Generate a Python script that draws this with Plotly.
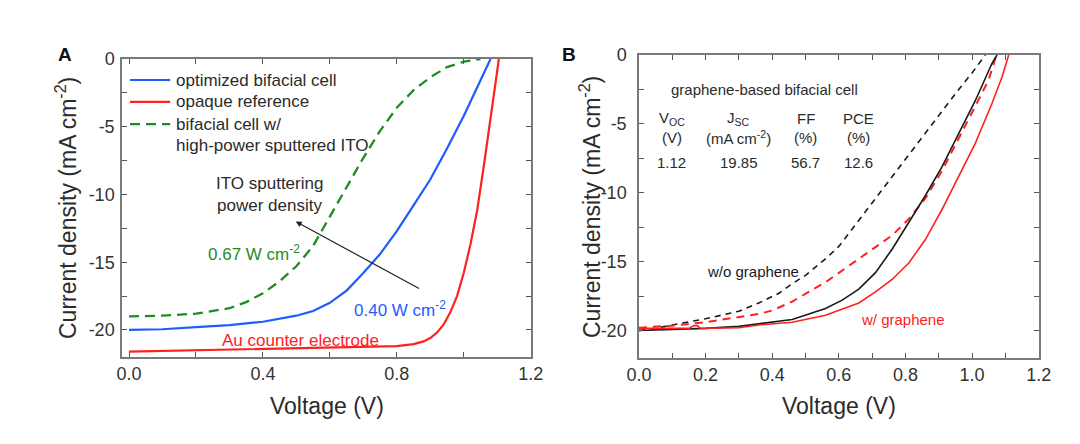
import plotly.graph_objects as go

# ---------------- Panel A data ----------------
a_v_blue = [0, 0.1, 0.2, 0.3, 0.4, 0.5, 0.55, 0.6, 0.65, 0.7, 0.75, 0.8, 0.85, 0.9, 0.95, 1.0, 1.04, 1.08]
a_j_blue = [-20.0, -19.95, -19.8, -19.65, -19.4, -18.95, -18.6, -18.0, -17.1, -15.8, -14.4, -12.7, -10.8, -8.9, -6.6, -4.2, -2.1, 0.0]

a_v_red = [0, 0.1, 0.2, 0.3, 0.4, 0.5, 0.6, 0.7, 0.8, 0.85, 0.88, 0.9, 0.92, 0.94, 0.96, 0.98, 1.0, 1.02, 1.04, 1.06, 1.08, 1.1, 1.105]
a_j_red = [-21.6, -21.55, -21.5, -21.45, -21.4, -21.4, -21.35, -21.3, -21.2, -21.05, -20.85, -20.6, -20.2, -19.6, -18.7, -17.5, -15.8, -13.7, -11.2, -7.9, -4.4, -0.8, 0.0]

a_v_green = [0, 0.1, 0.2, 0.3, 0.35, 0.4, 0.45, 0.5, 0.55, 0.6, 0.65, 0.7, 0.75, 0.8, 0.85, 0.9, 0.95, 1.0, 1.05]
a_j_green = [-19.0, -18.95, -18.8, -18.4, -17.95, -17.3, -16.4, -15.3, -13.8, -11.6, -9.4, -7.3, -5.3, -3.6, -2.3, -1.35, -0.6, -0.2, 0.0]

a_legend_names = ["optimized bifacial cell", "opaque reference", "bifacial cell w/", "high-power sputtered ITO"]

# ---------------- Panel B data ----------------
b_v_black = [0, 0.1, 0.2, 0.3, 0.36, 0.46, 0.56, 0.61, 0.66, 0.71, 0.76, 0.81, 0.86, 0.91, 0.96, 1.01, 1.06, 1.075]
b_j_black = [-20.0, -19.95, -19.85, -19.7, -19.5, -19.2, -18.4, -17.8, -17.0, -15.8, -14.1, -12.2, -10.2, -8.1, -5.7, -3.3, -0.6, 0.0]

b_v_black_dash = [0, 0.05, 0.1, 0.2, 0.3, 0.36, 0.42, 0.46, 0.5, 0.56, 0.6, 0.66, 0.71, 0.76, 0.81, 0.86, 0.91, 0.96, 1.0, 1.04]
b_j_black_dash = [-20.0, -19.85, -19.6, -19.15, -18.6, -18.0, -17.3, -16.6, -16.0, -14.8, -13.9, -12.0, -10.4, -8.8, -7.2, -5.7, -4.1, -2.5, -1.3, 0.0]

b_v_red = [0, 0.1, 0.15, 0.165, 0.175, 0.185, 0.2, 0.3, 0.36, 0.46, 0.56, 0.66, 0.71, 0.76, 0.81, 0.86, 0.91, 0.96, 1.01, 1.06, 1.09, 1.11]
b_j_red = [-19.85, -19.85, -19.85, -19.65, -19.65, -19.85, -19.85, -19.8, -19.6, -19.4, -18.9, -18.0, -17.2, -16.3, -15.1, -13.4, -11.2, -8.8, -6.4, -3.5, -1.6, 0.0]

b_v_red_dash = [0, 0.1, 0.2, 0.3, 0.36, 0.4, 0.46, 0.56, 0.66, 0.71, 0.76, 0.81, 0.86, 0.91, 0.96, 1.01, 1.05, 1.073]
b_j_red_dash = [-19.8, -19.65, -19.4, -19.05, -18.8, -18.55, -17.9, -16.5, -14.8, -14.0, -13.1, -11.9, -10.4, -8.4, -6.1, -3.7, -1.8, 0.0]

b_table_header = ["V<sub>OC</sub>", "J<sub>SC</sub>", "FF", "PCE"]
b_table_units = ["(V)", "(mA cm<sup>-2</sup>)", "(%)", "(%)"]
b_table_values = ["1.12", "19.85", "56.7", "12.6"]

x_ticks_a = [0.0, 0.4, 0.8, 1.2]
x_minor_a = [0.2, 0.6, 1.0]
x_ticks_b = [0.0, 0.2, 0.4, 0.6, 0.8, 1.0, 1.2]
x_minor_b = [0.1, 0.3, 0.5, 0.7, 0.9, 1.1]
y_ticks = [-20, -15, -10, -5, 0]
y_minor = [-17.5, -12.5, -7.5, -2.5]

FONT = '"Liberation Sans", Arial, sans-serif'
BLUE = "#1f5cff"
RED = "#ff2020"
GREEN = "#1f8c1f"
BLACK = "#1a1a1a"
TXT = "#2b2b2b"

fig = go.Figure()

# Panel A curves
fig.add_trace(go.Scatter(x=a_v_green, y=a_j_green, mode="lines", xaxis="x", yaxis="y",
                         line=dict(color=GREEN, width=2.3, dash="10px,6px"), showlegend=False))
fig.add_trace(go.Scatter(x=a_v_blue, y=a_j_blue, mode="lines", xaxis="x", yaxis="y",
                         line=dict(color=BLUE, width=2.2), showlegend=False))
fig.add_trace(go.Scatter(x=a_v_red, y=a_j_red, mode="lines", xaxis="x", yaxis="y",
                         line=dict(color=RED, width=2.2), showlegend=False))

# Panel B curves
fig.add_trace(go.Scatter(x=b_v_black_dash, y=b_j_black_dash, mode="lines", xaxis="x2", yaxis="y2",
                         line=dict(color=BLACK, width=1.6, dash="6px,5px"), showlegend=False))
fig.add_trace(go.Scatter(x=b_v_red_dash, y=b_j_red_dash, mode="lines", xaxis="x2", yaxis="y2",
                         line=dict(color=RED, width=2.0, dash="8px,6px"), showlegend=False))
fig.add_trace(go.Scatter(x=b_v_black, y=b_j_black, mode="lines", xaxis="x2", yaxis="y2",
                         line=dict(color=BLACK, width=1.6), showlegend=False))
fig.add_trace(go.Scatter(x=b_v_red, y=b_j_red, mode="lines", xaxis="x2", yaxis="y2",
                         line=dict(color=RED, width=1.6), showlegend=False))

axis_common = dict(showline=True, linecolor="#7a7a7a", linewidth=1.5, mirror="ticks",
                   ticks="inside", ticklen=5, tickwidth=1.2, tickcolor="#555",
                   showgrid=False, zeroline=False, automargin=False,
                   tickfont=dict(family=FONT, size=18, color="#333"))

minor_common = dict(ticks="inside", ticklen=5, tickcolor="#555", tickwidth=1.2, showgrid=False)

fig.update_layout(
    template="none",
    width=1080, height=444,
    margin=dict(l=0, r=0, t=0, b=0, pad=0, autoexpand=False),
    paper_bgcolor="white", plot_bgcolor="white",
    font=dict(family=FONT, color=TXT),
    showlegend=False,
    xaxis=dict(domain=[0.11296, 0.49167], range=[-0.021, 1.201], anchor="y",
               tickmode="array", tickvals=x_ticks_a, ticktext=["%.1f" % v for v in x_ticks_a],
               minor=dict(tickmode="array", tickvals=x_minor_a, **minor_common),
               **axis_common),
    yaxis=dict(domain=[0.19595, 0.86712], range=[-22, 0.001], anchor="x",
               tickmode="array", tickvals=y_ticks, ticktext=[str(v) for v in y_ticks],
               minor=dict(tickmode="array", tickvals=y_minor, **minor_common),
               ticklabelstandoff=2,
               **axis_common),
    xaxis2=dict(domain=[0.59167, 0.96204], range=[0, 1.201], anchor="y2",
                tickmode="array", tickvals=x_ticks_b, ticktext=["%.1f" % v for v in x_ticks_b],
                minor=dict(tickmode="array", tickvals=x_minor_b, **minor_common),
                **axis_common),
    yaxis2=dict(domain=[0.19369, 0.87613], range=[-22, 0.001], anchor="x2",
                tickmode="array", tickvals=y_ticks, ticktext=[str(v) for v in y_ticks],
                minor=dict(tickmode="array", tickvals=y_minor, **minor_common),
                ticklabelstandoff=7,
                **axis_common),
)

# Legend of panel A (sample lines + labels)
leg_y = [-1.55, -3.17, -4.8]
leg_colors = [BLUE, RED, GREEN]
leg_dash = ["solid", "solid", "10px,6px"]
for yy, cc, dd in zip(leg_y, leg_colors, leg_dash):
    fig.add_shape(type="line", xref="x", yref="y", x0=0.003, x1=0.123, y0=yy, y1=yy,
                  line=dict(color=cc, width=2.2, dash=dd))
for yy, name in zip(leg_y + [-6.38], a_legend_names):
    fig.add_annotation(xref="x", yref="y", x=0.134, y=yy, text=name, showarrow=False,
                       xanchor="left", yanchor="middle", font=dict(size=17, color=TXT))

ann = []
# Panel A texts
ann.append(dict(xref="x", yref="y", x=0.421, y=-9.17, text="ITO sputtering", font=dict(size=17, color=TXT)))
ann.append(dict(xref="x", yref="y", x=0.421, y=-10.8, text="power density", font=dict(size=17, color=TXT)))
ann.append(dict(xref="x", yref="y", x=0.373, y=-14.3, text="0.67 W cm<sup>-2</sup>", font=dict(size=17, color=GREEN)))
ann.append(dict(xref="x", yref="y", x=0.809, y=-18.45, text="0.40 W cm<sup>-2</sup>", font=dict(size=17, color=BLUE)))
ann.append(dict(xref="x", yref="y", x=0.513, y=-20.8, text="Au counter electrode", font=dict(size=17, color=RED)))

# Panel B texts
ann.append(dict(xref="x2", yref="y2", x=0.378, y=-2.53, text="graphene-based bifacial cell", font=dict(size=15, color=TXT)))
col_x = [0.099, 0.30, 0.50, 0.658]
for cx, h, u, v in zip(col_x, b_table_header, b_table_units, b_table_values):
    ann.append(dict(xref="x2", yref="y2", x=cx, y=-4.58, text=h, font=dict(size=15, color=TXT)))
    ann.append(dict(xref="x2", yref="y2", x=cx, y=-6.02, text=u, font=dict(size=15, color=TXT)))
    ann.append(dict(xref="x2", yref="y2", x=cx, y=-7.83, text=v, font=dict(size=15, color=TXT)))
ann.append(dict(xref="x2", yref="y2", x=0.343, y=-15.73, text="w/o graphene", font=dict(size=15, color=BLACK)))
ann.append(dict(xref="x2", yref="y2", x=0.793, y=-19.2, text="w/ graphene", font=dict(size=15, color=RED)))

# Axis titles
ann.append(dict(xref="paper", yref="paper", x=326.5 / 1080, y=1 - 406 / 444, text="Voltage (V)",
                font=dict(size=23, color=TXT)))
ann.append(dict(xref="paper", yref="paper", x=839 / 1080, y=1 - 406 / 444, text="Voltage (V)",
                font=dict(size=23, color=TXT)))
ann.append(dict(xref="paper", yref="paper", x=66 / 1080, y=1 - 208 / 444, text="Current density (mA cm<sup>-2</sup>)",
                textangle=-90, font=dict(size=23, color=TXT)))
ann.append(dict(xref="paper", yref="paper", x=590 / 1080, y=1 - 207 / 444, text="Current density (mA cm<sup>-2</sup>)",
                textangle=-90, font=dict(size=23, color=TXT)))
# Panel letters
ann.append(dict(xref="paper", yref="paper", x=65 / 1080, y=1 - 55 / 444, text="<b>A</b>", font=dict(size=19, color="#111")))
ann.append(dict(xref="paper", yref="paper", x=569 / 1080, y=1 - 55 / 444, text="<b>B</b>", font=dict(size=19, color="#111")))

for a in ann:
    a.setdefault("showarrow", False)
    a.setdefault("xanchor", "center")
    a.setdefault("yanchor", "middle")
    fig.add_annotation(**a)

# Arrow in panel A
fig.add_annotation(xref="x", yref="y", axref="x", ayref="y", x=0.498, y=-12.0, ax=0.871, ay=-17.0,
                   text="", showarrow=True, arrowhead=2, arrowsize=1, arrowwidth=1.2, arrowcolor="#222")

fig.write_html("out.html",
               config={"displayModeBar": False},
               post_script="document.body.style.margin='0px';document.body.style.overflow='hidden';")
